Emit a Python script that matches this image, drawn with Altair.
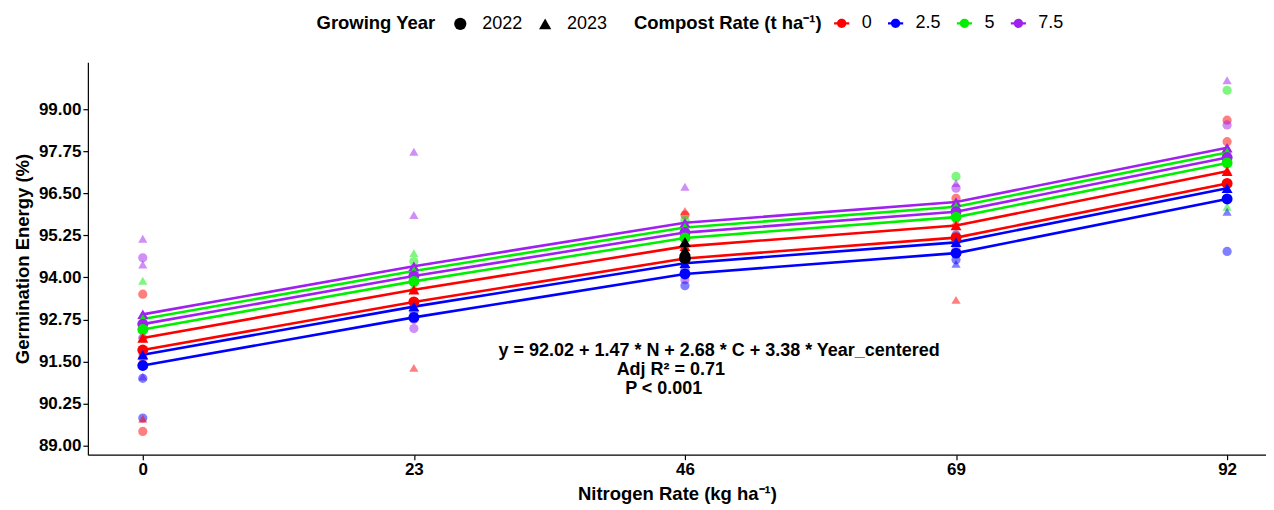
import altair as alt
import pandas as pd

# nitrogen levels and fitted lines (one per compost rate x year)
N_LEVELS = [0, 23, 46, 69, 92]
LINE_COMPOST = ["7.5", "5", "7.5", "5", "0", "0", "2.5", "2.5"]
LINE_YEAR = ["2023", "2023", "2022", "2022", "2023", "2022", "2023", "2022"]
LINE_VALUES = [
    [92.90, 94.33, 95.62, 96.24, 97.85],
    [92.76, 94.19, 95.48, 96.10, 97.71],
    [92.61, 94.04, 95.33, 95.95, 97.56],
    [92.45, 93.88, 95.17, 95.79, 97.40],
    [92.20, 93.63, 94.92, 95.54, 97.15],
    [91.84, 93.27, 94.56, 95.18, 96.79],
    [91.70, 93.13, 94.42, 95.04, 96.65],
    [91.38, 92.81, 94.10, 94.72, 96.33],
]

# observed plots
RAW_N = [0] * 17 + [23] * 12 + [46] * 8 + [69] * 13 + [92] * 11
RAW_C = [
    "7.5", "7.5", "7.5", "5", "0", "0", "5", "0", "2.5", "0", "7.5", "2.5", "2.5", "0", "0", "5", "7.5",
    "7.5", "7.5", "5", "5", "7.5", "5", "0", "2.5", "2.5", "7.5", "7.5", "0",
    "7.5", "0", "0", "5", "5", "2.5", "7.5", "2.5",
    "5", "7.5", "7.5", "0", "0", "5", "0", "2.5", "2.5", "7.5", "2.5", "2.5", "0",
    "7.5", "5", "0", "7.5", "0", "7.5", "5", "0", "5", "2.5", "2.5",
]
RAW_YEAR = [
    "2023", "2022", "2023", "2023", "2022", "2023", "2022", "2023", "2023", "2022", "2023", "2022", "2022", "2023", "2022", "2023", "2022",
    "2023", "2023", "2023", "2022", "2022", "2023", "2023", "2023", "2022", "2022", "2022", "2023",
    "2023", "2023", "2022", "2022", "2023", "2022", "2022", "2022",
    "2022", "2023", "2022", "2022", "2023", "2023", "2023", "2022", "2023", "2022", "2022", "2023", "2023",
    "2023", "2022", "2022", "2022", "2022", "2023", "2022", "2023", "2023", "2023", "2022",
]
RAW_VALUE = [
    95.15, 94.58, 94.38, 93.90, 93.50, 92.65, 92.50, 92.30, 91.80, 91.60, 91.05, 91.00, 89.82, 89.80, 89.42, 92.75, 92.20,
    97.73, 95.85, 94.72, 94.47, 94.15, 93.75, 93.65, 93.28, 92.98, 92.75, 92.48, 91.31,
    96.69, 95.97, 95.85, 95.70, 95.35, 94.22, 93.93, 93.75,
    97.00, 96.80, 96.65, 96.35, 96.20, 96.05, 95.66, 95.26, 95.11, 94.82, 94.52, 94.40, 93.33,
    99.86, 99.56, 98.67, 98.53, 98.03, 97.78, 97.45, 97.20, 96.10, 95.95, 94.77,
]

# dark summary points at 46 kg
BLACK_N = [46, 46, 46]
BLACK_YEAR = ["2023", "2023", "2022"]
BLACK_VALUE = [95.05, 94.80, 94.57]

NOTE_LINES = ["y = 92.02 + 1.47 * N + 2.68 * C + 3.38 * Year_centered", "Adj R² = 0.71", "P < 0.001"]
NOTE_N = [48.9, 44.8, 44.2]
NOTE_Y = [91.81, 91.24, 90.67]

COMPOST_LEVELS = ["0", "2.5", "5", "7.5"]
COMPOST_COLORS = ["#FF0000", "#0000FF", "#00EE00", "#A020F0"]
YEARS = ["2022", "2023"]

rows = []
for comp, year, vals in zip(LINE_COMPOST, LINE_YEAR, LINE_VALUES):
    for n, v in zip(N_LEVELS, vals):
        rows.append({"N": n, "Compost": comp, "Year": year, "GE": v, "grp": comp + "_" + year})
fit = pd.DataFrame(rows)
raw = pd.DataFrame({"N": RAW_N, "Compost": RAW_C, "Year": RAW_YEAR, "GE": RAW_VALUE})
black = pd.DataFrame({"N": BLACK_N, "Year": BLACK_YEAR, "GE": BLACK_VALUE})
note = pd.DataFrame({"N": NOTE_N, "GE": NOTE_Y, "txt": NOTE_LINES})

FONT = "Liberation Sans"
legend_path = ("M-1,-0.16H1V0.16H-1Z "
               "M0.62,0A0.62,0.62,0,1,1,-0.62,0A0.62,0.62,0,1,1,0.62,0Z")

x_enc = alt.X("N:Q", title="Nitrogen Rate (kg  ha⁻¹)",
              scale=alt.Scale(domain=[-4.66, 95.3], nice=False, zero=False),
              axis=alt.Axis(values=N_LEVELS, format="d"))
y_enc = alt.Y("GE:Q", title="Germination Energy (%)",
              scale=alt.Scale(domain=[88.73, 100.39], nice=False, zero=False),
              axis=alt.Axis(values=[89, 90.25, 91.5, 92.75, 94, 95.25, 96.5, 97.75, 99], format=".2f"))
comp_scale = alt.Scale(domain=COMPOST_LEVELS, range=COMPOST_COLORS)
# same mapping listed in reverse, so these hidden guides are not merged with the colour legend
comp_scale_rev = alt.Scale(domain=COMPOST_LEVELS[::-1], range=COMPOST_COLORS[::-1])
shape_scale = alt.Scale(domain=YEARS, range=["circle", "triangle-up"])

year_legend = alt.Legend(title="Growing Year", orient="none",
                         legendX=229, legendY=-48, direction="horizontal",
                         titleOrient="left", symbolFillColor="black",
                         symbolStrokeColor="black", symbolSize=150, symbolOpacity=1,
                         columnPadding=12, labelOffset=13, titlePadding=15)

raw_pts = alt.Chart(raw).mark_point(filled=True, size=85, opacity=0.5).encode(
    x=x_enc, y=y_enc,
    fill=alt.Fill("Compost:N", scale=comp_scale_rev, legend=None),
    shape=alt.Shape("Year:N", scale=shape_scale, legend=year_legend),
)

lines = alt.Chart(fit).mark_line(strokeWidth=2.6).encode(
    x=x_enc, y=y_enc,
    detail="grp:N",
    stroke=alt.Stroke("Compost:N", scale=comp_scale_rev, legend=None),
)

markers = alt.Chart(fit).mark_point(filled=True, size=120, opacity=1).encode(
    x=x_enc, y=y_enc,
    color=alt.Color("Compost:N", scale=comp_scale,
                    legend=alt.Legend(title="Compost Rate (t  ha⁻¹)", orient="none",
                                      legendX=547, legendY=-48, direction="horizontal",
                                      titleOrient="left", titleLimit=400, symbolType=legend_path,
                                      symbolSize=230, symbolStrokeWidth=0, symbolOpacity=1,
                                      columnPadding=14, labelOffset=11, titlePadding=5)),
    shape=alt.Shape("Year:N", scale=shape_scale, legend=year_legend),
)

black_pts = alt.Chart(black).mark_point(filled=True, size=140, color="black", opacity=1).encode(
    x=x_enc, y=y_enc,
    shape=alt.Shape("Year:N", scale=shape_scale, legend=year_legend),
)

text = alt.Chart(note).mark_text(font=FONT, fontSize=18, fontWeight="bold", color="black").encode(
    x=x_enc, y=y_enc, text="txt:N",
)

chart = alt.layer(raw_pts, lines, markers, black_pts, text).properties(
    width=1180, height=393,
    padding={"left": 5, "top": 6, "right": 0, "bottom": 0},
).configure_view(stroke=None).configure_axis(
    grid=False, domainColor="black", tickColor="black", labelColor="black", titleColor="black",
    labelFont=FONT, titleFont=FONT, labelFontWeight="bold", titleFontWeight="bold",
    labelFontSize=17, titleFontSize=18.5, tickSize=5, domainWidth=1.2, tickWidth=1.2,
).configure_axisY(titlePadding=6, labelPadding=2).configure_axisX(titlePadding=7, labelPadding=2).configure_legend(
    labelFont=FONT, titleFont=FONT, labelFontSize=18, titleFontSize=18.5,
    titleFontWeight="bold", labelColor="black", titleColor="black",
    symbolOpacity=1, symbolBaseFillColor="black", symbolBaseStrokeColor="black",
)

chart.save("out.html", embed_options={"renderer": "svg", "actions": False})
